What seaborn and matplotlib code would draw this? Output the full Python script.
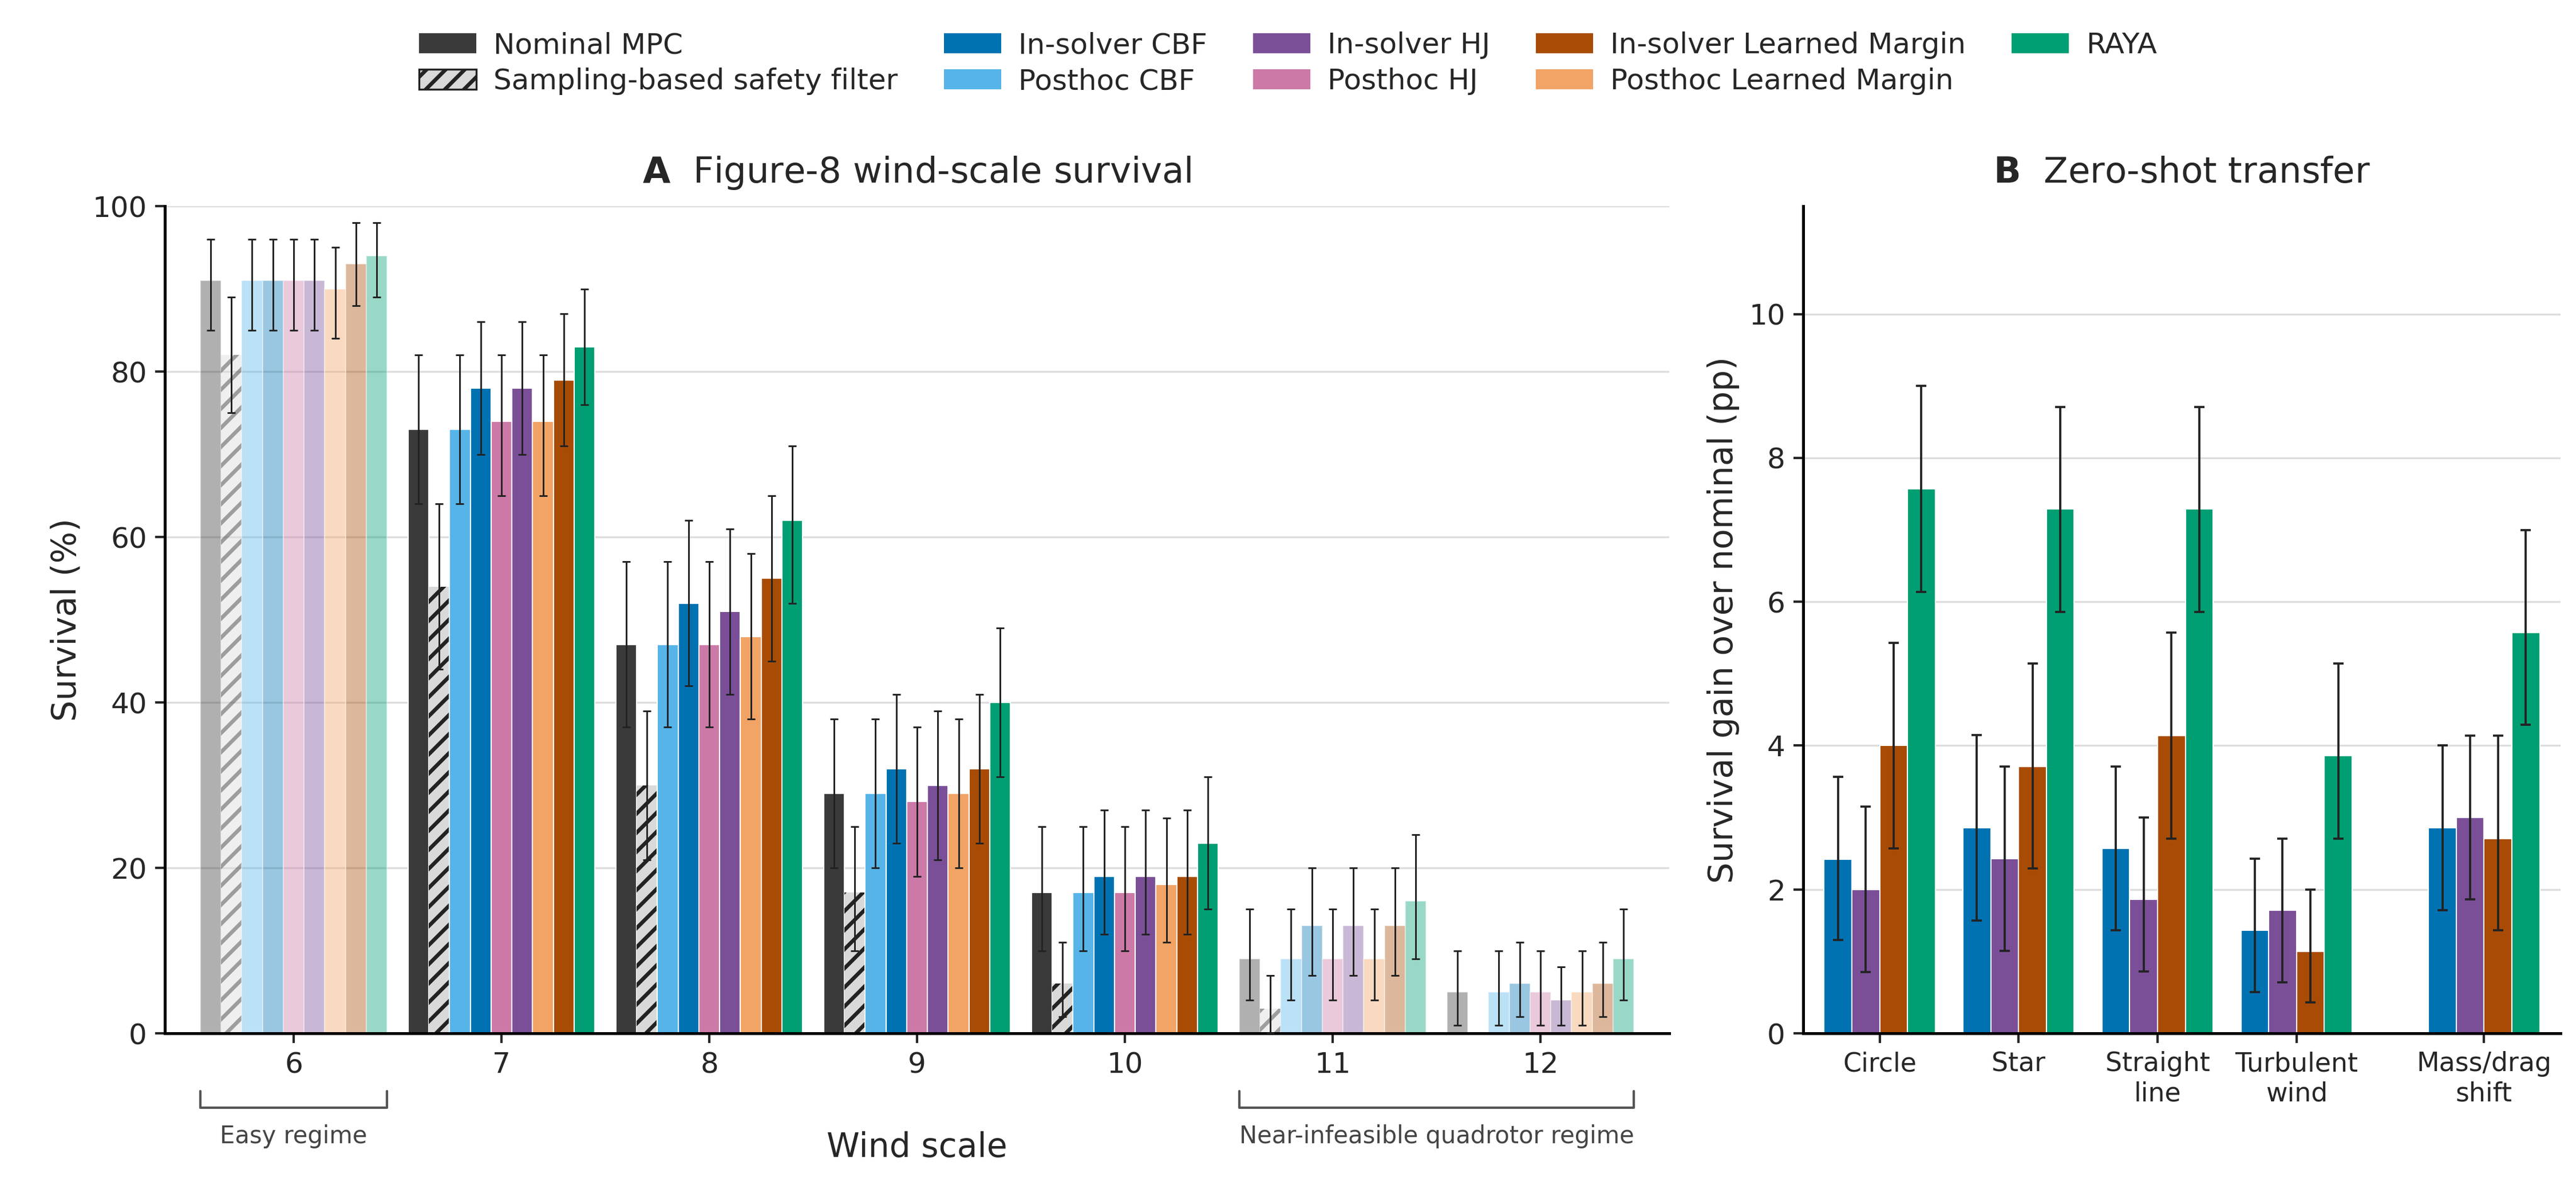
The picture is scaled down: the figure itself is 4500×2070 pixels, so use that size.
import numpy as np
import matplotlib
matplotlib.use("Agg")
import matplotlib.pyplot as plt
import seaborn as sns

# panel A data
wind_scales = [6, 7, 8, 9, 10, 11, 12]
methods = ["Nominal MPC", "Sampling-based safety filter", "Posthoc CBF", "In-solver CBF",
           "Posthoc HJ", "In-solver HJ", "Posthoc Learned Margin", "In-solver Learned Margin", "RAYA"]
colors = {"Nominal MPC": "#3a3a3a", "Sampling-based safety filter": "#d9d9d9",
          "In-solver CBF": "#0072B2", "Posthoc CBF": "#56B4E9",
          "In-solver HJ": "#7A4F98", "Posthoc HJ": "#CC79A7",
          "In-solver Learned Margin": "#A84C05", "Posthoc Learned Margin": "#F2A466",
          "RAYA": "#009E73"}
survival = [
    [91, 82, 91, 91, 91, 91, 90, 93, 94],
    [73, 54, 73, 78, 74, 78, 74, 79, 83],
    [47, 30, 47, 52, 47, 51, 48, 55, 62],
    [29, 17, 29, 32, 28, 30, 29, 32, 40],
    [17, 6, 17, 19, 17, 19, 18, 19, 23],
    [9, 3, 9, 13, 9, 13, 9, 13, 16],
    [5, 0, 5, 6, 5, 4, 5, 6, 9],
]
survival_lo = [
    [85, 75, 85, 85, 85, 85, 84, 88, 89],
    [64, 44, 64, 70, 65, 70, 65, 71, 76],
    [37, 21, 37, 42, 37, 41, 38, 45, 52],
    [20, 10, 20, 23, 19, 21, 20, 23, 31],
    [10, 2, 10, 12, 10, 12, 11, 12, 15],
    [4, 0, 4, 7, 4, 7, 4, 7, 9],
    [1, 0, 1, 2, 1, 1, 1, 2, 4],
]
survival_hi = [
    [96, 89, 96, 96, 96, 96, 95, 98, 98],
    [82, 64, 82, 86, 82, 86, 82, 87, 90],
    [57, 39, 57, 62, 57, 61, 58, 65, 71],
    [38, 25, 38, 41, 37, 39, 38, 41, 49],
    [25, 11, 25, 27, 25, 27, 26, 27, 31],
    [15, 7, 15, 20, 15, 20, 15, 20, 24],
    [10, 0, 10, 11, 10, 8, 10, 11, 15],
]
faded_scales = [6, 11, 12]

# panel B data
tasks = ["Circle", "Star", "Straight\nline", "Turbulent\nwind", "Mass/drag\nshift"]
methods_b = ["In-solver CBF", "In-solver HJ", "In-solver Learned Margin", "RAYA"]
gain = [
    [2.42, 2.0, 4.0, 7.57],
    [2.86, 2.43, 3.71, 7.29],
    [2.57, 1.86, 4.14, 7.29],
    [1.43, 1.71, 1.14, 3.86],
    [2.86, 3.0, 2.71, 5.57],
]
gain_lo = [
    [1.30, 0.85, 2.57, 6.14],
    [1.57, 1.15, 2.29, 5.86],
    [1.43, 0.86, 2.71, 5.86],
    [0.57, 0.71, 0.43, 2.71],
    [1.71, 1.86, 1.43, 4.29],
]
gain_hi = [
    [3.57, 3.15, 5.43, 9.0],
    [4.15, 3.71, 5.14, 8.71],
    [3.71, 3.0, 5.57, 8.71],
    [2.43, 2.71, 2.0, 5.14],
    [4.0, 4.14, 4.14, 7.0],
]
task_pos = [0, 1, 2, 3, 4.35]

sns.set_theme(style="whitegrid", context="paper")
plt.rcParams['font.family'] = ['DejaVu Sans']
plt.rcParams['hatch.linewidth'] = 1.6

fig = plt.figure(figsize=(15, 6.9), dpi=300)
axA = fig.add_axes([0.064, 0.128, 0.584, 0.698])
axB = fig.add_axes([0.70, 0.128, 0.294, 0.698])

w = 0.1
for gi, ws in enumerate(wind_scales):
    alpha = 0.4 if ws in faded_scales else 1.0
    for mi, m in enumerate(methods):
        x = gi + (mi - 4) * w
        v = survival[gi][mi]
        lo, hi = survival_lo[gi][mi], survival_hi[gi][mi]
        if m == "Sampling-based safety filter":
            axA.bar(x, v, w, color=colors[m], edgecolor="#222222", hatch="///",
                    linewidth=0, alpha=alpha, zorder=2)
        else:
            axA.bar(x, v, w, color=colors[m], edgecolor="white", linewidth=0.5,
                    alpha=alpha, zorder=2)
        if hi > lo:
            axA.errorbar(x, v, yerr=[[v - lo], [hi - v]], fmt="none", ecolor="#222222",
                         elinewidth=0.7, capsize=1.6, capthick=0.7, zorder=3)

axA.set_xticks(range(len(wind_scales)))
axA.set_xticklabels([str(s) for s in wind_scales], fontsize=12)
axA.set_xlim(-0.62, 6.62)
axA.set_ylim(0, 100)
axA.set_yticks(range(0, 101, 20))
axA.tick_params(axis="y", labelsize=12, left=True, length=4)
axA.tick_params(axis="x", bottom=True, length=4)
axA.set_ylabel("Survival (%)", fontsize=14)
axA.set_xlabel("Wind scale", fontsize=14, labelpad=22)
axA.set_title(r"$\bf{A}$  Figure-8 wind-scale survival", fontsize=15, pad=10)
axA.grid(axis="x", visible=False)
axA.grid(axis="y", color="#dddddd", linewidth=0.8)

# regime brackets
def bracket(ax, x0, x1, label):
    y = -0.09
    tr = ax.get_xaxis_transform()
    ax.plot([x0, x0, x1, x1], [y + 0.02, y, y, y + 0.02], transform=tr,
            color="#555555", lw=1.0, clip_on=False)
    ax.text((x0 + x1) / 2, y - 0.02, label, transform=tr, ha="center", va="top",
            fontsize=10, color="#444444")

bracket(axA, -0.45, 0.45, "Easy regime")
bracket(axA, 4.55, 6.45, "Near-infeasible quadrotor regime")

wb = 0.2
for ti in range(len(tasks)):
    for mi, m in enumerate(methods_b):
        x = task_pos[ti] + (mi - 1.5) * wb
        v = gain[ti][mi]
        axB.bar(x, v, wb, color=colors[m], edgecolor="white", linewidth=0.5, zorder=2)
        axB.errorbar(x, v, yerr=[[v - gain_lo[ti][mi]], [gain_hi[ti][mi] - v]], fmt="none",
                     ecolor="#222222", elinewidth=0.9, capsize=2.2, capthick=0.9, zorder=3)
axB.set_xticks(task_pos)
axB.set_xticklabels(tasks, fontsize=11)
axB.set_xlim(-0.55, 4.9)
axB.set_ylim(0, 11.5)
axB.set_yticks(range(0, 11, 2))
axB.tick_params(axis="y", labelsize=12, left=True, length=4)
axB.tick_params(axis="x", bottom=True, length=4)
axB.set_ylabel("Survival gain over nominal (pp)", fontsize=14)
axB.set_title(r"$\bf{B}$  Zero-shot transfer", fontsize=15, pad=10)
axB.grid(axis="x", visible=False)
axB.grid(axis="y", color="#dddddd", linewidth=0.8)

for ax in (axA, axB):
    sns.despine(ax=ax)
    for s in ("left", "bottom"):
        ax.spines[s].set_color("black")
        ax.spines[s].set_linewidth(1.2)

legend_order = ["Nominal MPC", "Sampling-based safety filter", "In-solver CBF", "Posthoc CBF",
                "In-solver HJ", "Posthoc HJ", "In-solver Learned Margin", "Posthoc Learned Margin", "RAYA"]
handles = []
for m in legend_order:
    if m == "Sampling-based safety filter":
        h = plt.Rectangle((0, 0), 1, 1, facecolor=colors[m], edgecolor="#222222", hatch="///", lw=0.8)
    else:
        h = plt.Rectangle((0, 0), 1, 1, facecolor=colors[m], edgecolor="none")
    handles.append(h)
fig.legend(handles, legend_order, loc="upper center", bbox_to_anchor=(0.5, 0.995), ncol=5,
           frameon=False, fontsize=12, handlelength=2.0, columnspacing=1.6, handletextpad=0.6,
           labelspacing=0.3)

fig.savefig("out.png", dpi=300)
